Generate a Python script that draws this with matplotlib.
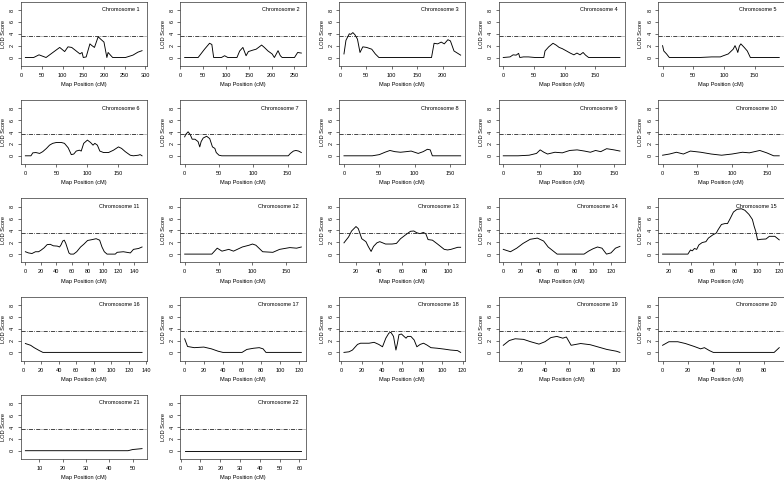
import matplotlib
matplotlib.use("Agg")
import matplotlib.pyplot as plt

plt.rcParams["font.family"] = ["Liberation Sans", "DejaVu Sans"]
plt.rcParams["lines.scale_dashes"] = False

# LOD score profiles (position in cM, LOD score)
chr1_x = [10, 30, 43, 60, 93, 105, 113, 122, 142, 147, 150, 157, 166, 171, 177, 186, 192, 200, 207, 210, 217, 221, 252, 270, 282, 292]
chr1_y = [0, 0, 0.45, 0, 1.7, 1.0, 1.8, 1.7, 0.6, 0.85, 0, 0.1, 2.3, 2.0, 1.7, 3.5, 3.1, 2.6, 0, 0.85, 0.3, 0, 0, 0.4, 0.9, 1.15]

chr2_x = [9.5, 39, 53, 64, 69, 73, 90, 97, 104, 124, 130, 137, 144, 149, 159, 166, 173, 178, 184, 192, 201, 206, 214, 219, 223, 250, 257, 265]
chr2_y = [0, 0, 1.4, 2.4, 2.2, 0, 0, 0.3, 0, 0, 1.1, 1.7, 0.3, 1.0, 1.25, 1.4, 1.8, 2.1, 1.7, 1.1, 0.6, 0, 1.15, 0.3, 0, 0, 0.85, 0.75]

chr3_x = [6.6, 10.5, 17, 20, 24, 28, 33, 38, 43.5, 51, 61, 68, 75, 178, 183, 190, 197, 203, 210, 215, 222, 235]
chr3_y = [0.6, 2.9, 4.0, 3.9, 4.2, 3.85, 3.1, 0.85, 1.8, 1.7, 1.4, 0.6, 0, 0, 2.4, 2.3, 2.6, 2.3, 3.0, 2.8, 1.1, 0.4]

chr4_x = [0, 11, 16, 21, 25, 27, 33, 41, 52, 66, 68, 74, 81, 86, 91, 96, 103, 109, 115, 120, 125, 130, 134, 139, 190]
chr4_y = [0, 0.1, 0.45, 0.4, 0.7, 0, 0.1, 0.1, 0, 0, 1.1, 1.8, 2.4, 2.1, 1.7, 1.5, 1.1, 0.75, 0.45, 0.75, 0.45, 0.85, 0.4, 0, 0]

chr5_x = [0, 2, 6.5, 11, 60, 80, 94, 99, 107, 115, 118, 121, 122.5, 125, 127.5, 133, 138, 143, 190]
chr5_y = [2.0, 1.1, 0.6, 0, 0, 0.1, 0.1, 0.3, 0.6, 1.4, 2.0, 1.3, 0.85, 1.9, 2.3, 1.7, 1.1, 0, 0]

chr6_x = [0, 9, 12, 17, 23, 28, 34, 39, 44, 50, 58, 63, 69, 74, 78, 82, 87, 90, 94, 100, 105, 109, 112, 116, 120, 126, 134, 142, 150, 155, 161, 169, 174, 182, 185, 188]
chr6_y = [0, 0, 0.5, 0.55, 0.4, 0.7, 1.25, 1.8, 2.1, 2.25, 2.25, 2.1, 1.35, 0.2, 0.3, 0.8, 0.95, 0.8, 2.1, 2.65, 2.25, 1.8, 2.1, 1.8, 0.8, 0.55, 0.55, 0.95, 1.5, 1.25, 0.7, 0.1, 0, 0.1, 0.2, 0]

chr7_x = [0, 1.5, 5, 8, 11, 15, 19.5, 22, 24, 27, 32, 36.5, 40.5, 44, 46, 50, 54, 151, 154, 158.5, 162, 166, 170]
chr7_y = [3.2, 3.6, 4.05, 3.6, 2.8, 2.8, 2.4, 1.5, 2.4, 3.0, 3.3, 2.9, 1.5, 1.25, 0.55, 0.1, 0, 0, 0.4, 0.8, 0.9, 0.8, 0.55]

chr8_x = [0, 40, 50, 58, 65, 72, 80, 88, 95, 105, 112, 118, 122, 125, 165]
chr8_y = [0, 0, 0.2, 0.6, 0.9, 0.7, 0.6, 0.7, 0.8, 0.4, 0.7, 1.1, 1.0, 0, 0]

chr9_x = [0, 20, 35, 45, 50, 55, 60, 70, 80, 90, 100, 110, 118, 125, 132, 140, 150, 158]
chr9_y = [0, 0, 0.1, 0.4, 1.0, 0.6, 0.3, 0.6, 0.5, 0.9, 1.0, 0.8, 0.6, 0.9, 0.7, 1.2, 1.0, 0.8]

chr10_x = [0, 10, 20, 30, 40, 55, 70, 85, 100, 115, 125, 140, 150, 160, 168]
chr10_y = [0.1, 0.3, 0.6, 0.3, 0.8, 0.6, 0.3, 0.1, 0.3, 0.6, 0.5, 0.9, 0.5, 0, 0]

chr11_x = [0, 4, 8.5, 13, 17, 20, 24, 28, 32, 36, 41, 44, 46, 48, 50, 52, 56, 58, 62, 66, 71, 75, 80, 86, 91, 95.5, 98.5, 101.5, 105, 115.6, 118, 126, 135, 139, 145.6, 150]
chr11_y = [0.4, 0.2, 0.1, 0.4, 0.4, 0.65, 1.05, 1.6, 1.65, 1.4, 1.35, 1.2, 1.6, 2.2, 2.35, 1.8, 0.2, 0, 0, 0.4, 1.2, 1.65, 2.3, 2.45, 2.6, 2.35, 1.2, 0.4, 0, 0, 0.3, 0.4, 0.2, 0.8, 0.95, 1.2]

chr12_x = [0, 40, 48, 55, 65, 72, 85, 95, 100, 105, 115, 130, 140, 155, 165, 172]
chr12_y = [0, 0, 1.0, 0.5, 0.8, 0.5, 1.2, 1.5, 1.7, 1.5, 0.4, 0.3, 0.8, 1.1, 1.0, 1.2]

chr13_x = [10, 14, 16.6, 20.4, 22.4, 25.4, 29, 31, 33.5, 35.6, 38.5, 41, 46, 51.6, 55.4, 59, 63, 67.6, 70.5, 73, 75.8, 78.7, 80.8, 82.8, 86.6, 91, 96.8, 99.7, 102.6, 108.5, 111]
chr13_y = [1.9, 2.9, 3.9, 4.65, 4.3, 2.6, 2.1, 1.3, 0.45, 1.3, 1.9, 2.1, 1.7, 1.7, 1.8, 2.6, 3.2, 3.85, 3.9, 3.6, 3.45, 3.65, 3.45, 2.45, 2.35, 1.7, 0.8, 0.7, 0.8, 1.15, 1.15]

chr14_x = [0, 8, 15, 22, 30, 38, 45, 50, 55, 60, 90, 95, 100, 105, 110, 115, 120, 125, 130]
chr14_y = [0.8, 0.4, 1.0, 1.8, 2.5, 2.7, 2.2, 1.2, 0.6, 0, 0, 0.5, 0.9, 1.2, 1.0, 0, 0.2, 1.0, 1.3]

chr15_x = [14, 37, 39.4, 41, 43, 45, 47, 50, 53.4, 55.6, 59.7, 62.8, 64.4, 67.5, 70.6, 73, 75.3, 78.4, 81.6, 85.6, 88.75, 92.5, 95.6, 97.2, 98.75, 100.3, 103.4, 108, 111, 116, 120]
chr15_y = [0, 0, 0.7, 0.55, 0.95, 0.8, 1.55, 1.95, 2.1, 2.7, 3.25, 3.55, 4.1, 5.0, 5.15, 5.15, 5.95, 7.1, 7.55, 7.65, 7.4, 6.7, 5.85, 4.7, 3.8, 2.4, 2.5, 2.55, 3.0, 3.0, 2.4]

chr16_x = [2, 8, 12, 18, 22, 135]
chr16_y = [1.5, 1.2, 0.8, 0.3, 0, 0]

chr17_x = [0, 3, 10, 20, 28, 35, 40, 60, 65, 72, 78, 82, 85, 122]
chr17_y = [2.3, 1.0, 0.8, 0.9, 0.6, 0.2, 0, 0, 0.5, 0.7, 0.8, 0.6, 0, 0]

chr18_x = [2.6, 7.6, 11, 16, 19, 27.4, 32.4, 37, 40.7, 44, 47, 49, 51.6, 54, 55.5, 57, 59.5, 62, 64, 65.5, 68.8, 72, 74.7, 78, 81.3, 84.6, 88.6, 95, 102, 108, 115, 118]
chr18_y = [0, 0.1, 0.4, 1.35, 1.55, 1.55, 1.7, 1.35, 0.95, 2.4, 3.25, 3.4, 2.7, 0.4, 1.55, 3.0, 3.1, 2.7, 2.4, 2.7, 2.7, 2.1, 0.95, 1.35, 1.55, 1.25, 0.8, 0.7, 0.55, 0.4, 0.3, 0]

chr19_x = [5, 10, 15, 22, 28, 35, 40, 45, 50, 55, 58, 62, 70, 78, 85, 92, 100, 103]
chr19_y = [1.2, 2.0, 2.3, 2.2, 1.8, 1.4, 1.8, 2.5, 2.7, 2.4, 2.6, 1.2, 1.5, 1.3, 0.9, 0.5, 0.2, 0]

chr20_x = [0, 5, 12, 18, 25, 30, 33, 37, 40, 88, 92]
chr20_y = [1.2, 1.8, 1.8, 1.5, 1.0, 0.6, 0.8, 0.3, 0, 0, 0.8]

chr21_x = [4, 48, 50, 54]
chr21_y = [0, 0, 0.2, 0.35]

chr22_x = [2, 61]
chr22_y = [0, 0]

positions = [chr1_x, chr2_x, chr3_x, chr4_x, chr5_x, chr6_x, chr7_x, chr8_x, chr9_x, chr10_x, chr11_x,
             chr12_x, chr13_x, chr14_x, chr15_x, chr16_x, chr17_x, chr18_x, chr19_x, chr20_x, chr21_x, chr22_x]
scores = [chr1_y, chr2_y, chr3_y, chr4_y, chr5_y, chr6_y, chr7_y, chr8_y, chr9_y, chr10_y, chr11_y,
          chr12_y, chr13_y, chr14_y, chr15_y, chr16_y, chr17_y, chr18_y, chr19_y, chr20_y, chr21_y, chr22_y]
tick_step = [50, 50, 50, 50, 50, 50, 50, 50, 50, 50, 20, 50, 20, 20, 20, 20, 20, 20, 20, 20, 10, 10]
y_ticks = [0, 2, 4, 6, 8]
threshold = 3.6

W, H = 784, 482
fig = plt.figure(figsize=(W / 100, H / 100), dpi=100)

panel_w, panel_h = 126, 64
for i in range(22):
    row, col = divmod(i, 5)
    left = 20.7 + 159.3 * col
    top = 1.8 + 98.3 * row
    ax = fig.add_axes([left / W, 1 - (top + panel_h) / H, panel_w / W, panel_h / H])

    x = positions[i]
    y = scores[i]
    ax.plot(x, y, color="black", lw=0.65)
    ax.axhline(threshold, color="0.15", lw=0.6, dashes=(3.0, 0.9, 0.5, 0.9))

    # R-style 4% padding on the x range
    pad = 0.04 * (max(x) - min(x))
    ax.set_xlim(min(x) - pad, max(x) + pad)
    ax.set_ylim(-1.4, 9.4)

    step = tick_step[i]
    lo = -(-(min(x) - pad) // step) * step
    ticks = []
    t = lo
    while t <= max(x) + pad:
        ticks.append(t)
        t += step
    ax.set_xticks(ticks)
    ax.set_xticklabels([str(int(v)) for v in ticks])
    ax.set_yticks(y_ticks)
    ax.set_yticklabels([str(v) for v in y_ticks], rotation=90, va="center")

    ax.tick_params(length=2.2, width=0.5, labelsize=4, color="0.2")
    ax.tick_params(axis="x", pad=2.8)
    ax.tick_params(axis="y", pad=1.8)
    for s in ax.spines.values():
        s.set_linewidth(0.5)
        s.set_color("0.2")

    ax.set_xlabel("Map Position (cM)", fontsize=4.1, labelpad=3.2)
    ax.set_ylabel("LOD Score", fontsize=4.1, labelpad=2.8)
    ax.text(1 - 7 / panel_w, 1 - 8 / panel_h, "Chromosome %d" % (i + 1),
            transform=ax.transAxes, ha="right", va="center", fontsize=4.0)

fig.savefig("out.png", dpi=100)
